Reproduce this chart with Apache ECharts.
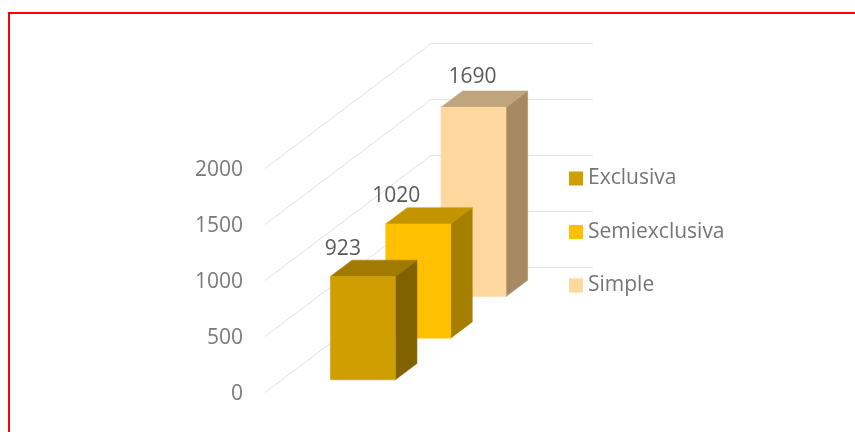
<!DOCTYPE html>
<html>
<head>
<meta charset="utf-8">
<style>html,body{margin:0;padding:0;background:#fff}#c{width:855px;height:432px}</style>
<script src="https://cdn.jsdelivr.net/npm/echarts@6/dist/echarts.min.js"></script>
</head>
<body>
<div id="c"></div>
<script>
const categories = ['Exclusiva', 'Semiexclusiva', 'Simple'];
const values = [923, 1020, 1690];
const yTicks = [0, 500, 1000, 1500, 2000];

const palette = [
  { front: '#CF9E00', top: '#A07B00', side: '#806300' },
  { front: '#FFC000', top: '#C49400', side: '#A67E00' },
  { front: '#FFD89F', top: '#BFA57C', side: '#A78A63' }
];
const labelShiftX = [-20, -22, -1];
const labelRise = [11, 12, 14];

const FONT = '"Open Sans", sans-serif';
const GRID = { left: 265, top: 168.5, width: 166, height: 224 };
const DEPTH_Y = 125;
const WALL_W = 162;
const BAR_W = 65;
const BAR_DEPTH = 0.39; // share of a category band along the depth axis

const slope = DEPTH_Y / GRID.width;

function renderBar(params, api) {
  const i = api.value(0);
  const v = api.value(1);
  const band = api.size([1, 0])[0];
  const centre = api.coord([i, 0]);
  const topPt = api.coord([i, v]);
  const dx = band * BAR_DEPTH;
  const dy = dx * slope;
  const xL = centre[0] - dx / 2 + (WALL_W - BAR_W) / 2;
  const xR = xL + BAR_W;
  const rise = slope * (centre[0] - dx / 2 - GRID.left);
  const yB = centre[1] - rise;
  const yT = topPt[1] - rise;
  const c = palette[i];
  const poly = (pts, fill) => ({
    type: 'polygon',
    shape: { points: pts },
    style: { fill: fill, stroke: fill, lineWidth: 0.5 }
  });
  return {
    type: 'group',
    children: [
      poly([[xR, yT], [xR + dx, yT - dy], [xR + dx, yB - dy], [xR, yB]], c.side),
      poly([[xL, yT], [xL + dx, yT - dy], [xR + dx, yT - dy], [xR, yT]], c.top),
      poly([[xL, yT], [xR, yT], [xR, yB], [xL, yB]], c.front),
      {
        type: 'text',
        style: {
          x: (xL + xR) / 2 + labelShiftX[i],
          y: yT - dy - labelRise[i],
          text: String(v),
          fill: '#595959',
          font: '21px ' + FONT,
          textAlign: 'center',
          textVerticalAlign: 'middle'
        }
      }
    ]
  };
}

function renderWall(params, api) {
  const p = api.coord([0, api.value(0)]);
  const x0 = GRID.left, y0 = p[1];
  const points = [[x0, y0], [x0 + GRID.width, y0 - DEPTH_Y], [x0 + GRID.width + WALL_W, y0 - DEPTH_Y]];
  return {
    type: 'polyline',
    shape: { points: points },
    style: { fill: 'none', stroke: '#E3E3E3', lineWidth: 1 }
  };
}

const barSeries = categories.map((name, i) => ({
  name: name,
  type: 'custom',
  renderItem: renderBar,
  z: 10 - i,
  clip: false,
  itemStyle: { color: palette[i].front },
  encode: { x: 0, y: 1 },
  data: [[i, values[i]]]
}));

const chart = echarts.init(document.getElementById('c'), null, { renderer: 'canvas' });
chart.setOption({
  animation: false,
  backgroundColor: '#fff',
  textStyle: { fontFamily: FONT },
  grid: { left: GRID.left, top: GRID.top, width: GRID.width, height: GRID.height },
  xAxis: { type: 'category', data: categories, show: false },
  yAxis: {
    type: 'value', min: 0, max: 2000, interval: 500,
    axisLine: { show: false }, axisTick: { show: false }, splitLine: { show: false },
    axisLabel: {
      margin: 22, color: '#7A7A7A', fontSize: 21, fontFamily: FONT,
      verticalAlign: 'top', lineHeight: 4, formatter: v => String(v)
    }
  },
  legend: {
    data: categories,
    orient: 'vertical',
    left: 569, top: 168, padding: 0,
    icon: 'rect',
    itemWidth: 14, itemHeight: 14, itemGap: 32.5,
    formatter: name => '{a|' + name + '}{b| }',
    textStyle: {
      color: '#757575', fontSize: 21, fontFamily: FONT,
      rich: {
        a: { color: '#757575', fontSize: 21, fontFamily: FONT, lineHeight: 17, verticalAlign: 'bottom' },
        b: { fontSize: 1, lineHeight: 21, width: 0 }
      }
    }
  },
  graphic: [{
    type: 'rect', silent: true,
    shape: { x: 9, y: 13, width: 950, height: 520 },
    style: { fill: 'none', stroke: '#FF0000', lineWidth: 2 }
  }],
  series: [{
    name: 'wall', type: 'custom', renderItem: renderWall, z: 1, clip: false,
    encode: { y: 0 }, silent: true,
    data: yTicks.map(t => [t])
  }].concat(barSeries)
});
</script>
</body>
</html>
